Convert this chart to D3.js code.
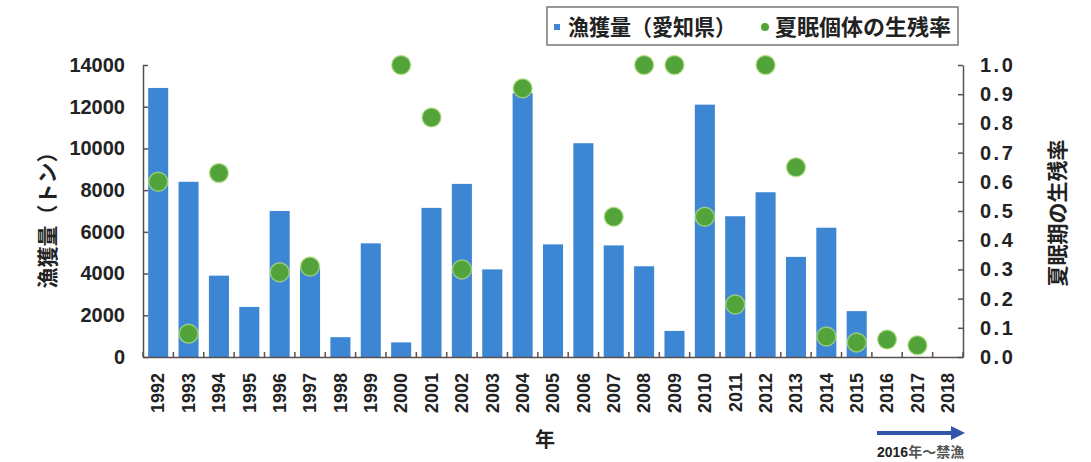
<!DOCTYPE html>
<html>
<head>
<meta charset="utf-8">
<script src="https://cdn.jsdelivr.net/npm/d3@7"></script>
<style>
  body { margin: 0; background: #fff; }
  text { fill: #222; }
</style>
</head>
<body>
<svg id="chart" width="1091" height="462"></svg>
<script>
// data
var years = ["1992","1993","1994","1995","1996","1997","1998","1999","2000","2001","2002","2003","2004","2005",
             "2006","2007","2008","2009","2010","2011","2012","2013","2014","2015","2016","2017","2018"];
var catchTons = [12900, 8400, 3900, 2400, 7000, 4300, 950, 5450, 700, 7150, 8300, 4200, 12650, 5400,
                 10250, 5350, 4350, 1250, 12100, 6750, 7900, 4800, 6200, 2200, null, null, null];
var survival = [0.60, 0.08, 0.63, null, 0.29, 0.31, null, null, 1.0, 0.82, 0.30, null, 0.92, null,
                null, 0.48, 1.0, 1.0, 0.48, 0.18, 1.0, 0.65, 0.07, 0.05, 0.06, 0.04, null];
var leftTicks = [0, 2000, 4000, 6000, 8000, 10000, 12000, 14000];
var rightTicks = [0, 0.1, 0.2, 0.3, 0.4, 0.5, 0.6, 0.7, 0.8, 0.9, 1.0];

var svg = d3.select("#chart");
var numFont = "'Liberation Sans', Arial, sans-serif";
var jpFont = "'Noto Sans CJK JP', sans-serif";
var axisColor = "#5a5050";

var x = d3.scaleBand().domain(years).range([143, 963]).paddingInner(0.34).paddingOuter(0.17);
var yL = d3.scaleLinear().domain([0, 14000]).range([357, 65]);
var yR = d3.scaleLinear().domain([0, 1]).range([357, 65]);

// bars
svg.append("g").selectAll("rect")
  .data(years.map(function (y, i) { return {year: y, v: catchTons[i]}; }).filter(function (d) { return d.v != null; }))
  .enter().append("rect")
  .attr("x", function (d) { return x(d.year); })
  .attr("width", x.bandwidth())
  .attr("y", function (d) { return yL(d.v); })
  .attr("height", function (d) { return yL(0) - yL(d.v); })
  .attr("fill", "#3d86d3");

// left axis
var gl = svg.append("g").attr("transform", "translate(143,0)")
  .call(d3.axisLeft(yL).tickValues(leftTicks).tickFormat(d3.format("d")).tickSizeInner(-5).tickSizeOuter(0).tickPadding(18));
gl.select(".domain").attr("stroke", axisColor).attr("stroke-width", 1.5);
gl.selectAll(".tick line").attr("stroke", axisColor).attr("stroke-width", 1.5);
gl.selectAll(".tick text").attr("font-family", numFont).attr("font-weight", "bold")
  .attr("font-size", 20).attr("fill", "#222");

// right axis
var gr = svg.append("g").attr("transform", "translate(963,0)")
  .call(d3.axisRight(yR).tickValues(rightTicks).tickFormat(d3.format(".1f")).tickSizeInner(-5).tickSizeOuter(0).tickPadding(17));
gr.select(".domain").attr("stroke", axisColor).attr("stroke-width", 1.5);
gr.selectAll(".tick line").attr("stroke", axisColor).attr("stroke-width", 1.5);
gr.selectAll(".tick text").attr("font-family", numFont).attr("font-weight", "bold")
  .attr("font-size", 20).attr("letter-spacing", 2.5).attr("fill", "#222");

// bottom axis: labels plus tick marks between categories
var gx = svg.append("g").attr("transform", "translate(0,357)")
  .call(d3.axisBottom(x).tickSize(0).tickPadding(0));
gx.select(".domain").attr("stroke", axisColor).attr("stroke-width", 1.5);
gx.selectAll(".tick text")
  .attr("font-family", numFont).attr("font-weight", "bold").attr("font-size", 18).attr("fill", "#222")
  .attr("text-anchor", "end").attr("dy", "0.35em")
  .attr("transform", "translate(0,16) rotate(-90)").attr("x", 0).attr("y", 0);
var bounds = years.map(function (y) { return x(y) + x.bandwidth() / 2 - x.step() / 2; });
bounds.push(963);
gx.selectAll(".bt").data(bounds).enter().append("line")
  .attr("x1", function (d) { return d; }).attr("x2", function (d) { return d; })
  .attr("y1", 0).attr("y2", -5).attr("stroke", axisColor).attr("stroke-width", 1.5);

// survival dots
svg.append("g").selectAll("circle")
  .data(years.map(function (y, i) { return {year: y, v: survival[i]}; }).filter(function (d) { return d.v != null; }))
  .enter().append("circle")
  .attr("cx", function (d) { return x(d.year) + x.bandwidth() / 2; })
  .attr("cy", function (d) { return yR(d.v); })
  .attr("r", 9.5)
  .attr("fill", "#52a43a")
  .attr("stroke", "#b5df86").attr("stroke-width", 1.5).attr("stroke-opacity", 0.7);

// axis titles
svg.append("text").attr("transform", "translate(48,215) rotate(-90)")
  .attr("text-anchor", "middle").attr("dy", "0.35em")
  .attr("font-family", jpFont).attr("font-weight", "bold").attr("font-size", 21)
  .text("漁獲量（トン）");
svg.append("text").attr("transform", "translate(1058,213) rotate(-90)")
  .attr("text-anchor", "middle").attr("dy", "0.35em")
  .attr("font-family", jpFont).attr("font-weight", "bold").attr("font-size", 21)
  .text("夏眠期の生残率");
svg.append("text").attr("x", 545).attr("y", 440)
  .attr("text-anchor", "middle").attr("dy", "0.35em")
  .attr("font-family", jpFont).attr("font-weight", "bold").attr("font-size", 20)
  .text("年");

// legend
var lg = svg.append("g");
lg.append("rect").attr("x", 547).attr("y", 7).attr("width", 411).attr("height", 38)
  .attr("fill", "#fff").attr("stroke", "#777").attr("stroke-width", 1.5);
lg.append("rect").attr("x", 554).attr("y", 24).attr("width", 6).attr("height", 6).attr("fill", "#3d86d3");
lg.append("text").attr("x", 568).attr("y", 27).attr("dy", "0.35em")
  .attr("font-family", jpFont).attr("font-weight", "bold").attr("font-size", 22)
  .attr("textLength", 168).attr("lengthAdjust", "spacingAndGlyphs")
  .text("漁獲量（愛知県）");
lg.append("circle").attr("cx", 765).attr("cy", 27).attr("r", 4).attr("fill", "#52a43a");
lg.append("text").attr("x", 775).attr("y", 27).attr("dy", "0.35em")
  .attr("font-family", jpFont).attr("font-weight", "bold").attr("font-size", 22)
  .text("夏眠個体の生残率");

// closure note with arrow
svg.append("line").attr("x1", 877).attr("x2", 953).attr("y1", 433).attr("y2", 433)
  .attr("stroke", "#2f56a8").attr("stroke-width", 4);
svg.append("path").attr("d", "M951,426 L965,433 L951,440 Z").attr("fill", "#2f56a8");
var note = svg.append("text").attr("x", 877).attr("y", 457)
  .attr("font-family", jpFont).attr("font-weight", "bold").attr("font-size", 14);
note.append("tspan").attr("font-family", numFont).text("2016");
note.append("tspan").attr("fill", "#555").text("年～禁漁");
</script>
</body>
</html>
